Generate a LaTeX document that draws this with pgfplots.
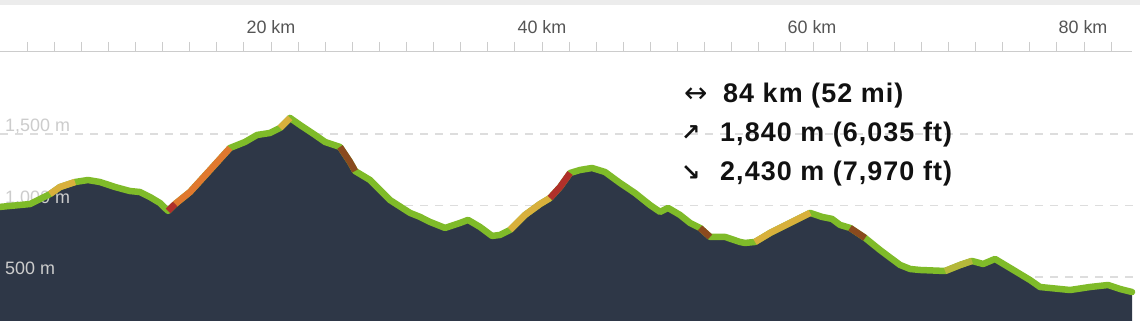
\documentclass[border=0pt]{standalone}
\usepackage{fontspec}
\setmainfont{Liberation Sans}
\newfontfamily\arrowfont{DejaVu Sans}
\newfontfamily\statfont[LetterSpace=4]{Liberation Sans}
\usepackage{pgfplots}
\usepackage{pgfplotstable}
\pgfplotsset{compat=1.18}

\definecolor{fillc}{HTML}{2E3747}
\definecolor{linegreen}{HTML}{7FBB29}
\definecolor{segyellow}{HTML}{D8B03C}
\definecolor{segorange}{HTML}{E0782E}
\definecolor{segred}{HTML}{B0302A}
\definecolor{segbrown}{HTML}{8A4A1E}
\definecolor{segolive}{HTML}{B5B83A}
\definecolor{rulergray}{HTML}{CCCCCC}
\definecolor{gridgray}{HTML}{DDDDDD}
\definecolor{ylabgray}{HTML}{CCCCCC}
\definecolor{kmgray}{HTML}{555555}
\definecolor{topgray}{HTML}{ECECEC}
\definecolor{stattext}{HTML}{111111}

\pgfplotstableread{
km m
0 990
2.21 1010
3.69 1080
4.43 1129
5.54 1164
6.49 1178
7.38 1164
8.49 1129
9.59 1101
10.33 1094
11.07 1059
11.81 1017
12.40 962
12.92 1010
14.02 1094
15.50 1248
16.97 1402
18.08 1444
18.97 1493
19.93 1507
20.66 1542
21.40 1612
22.14 1563
23.25 1493
23.99 1444
25.09 1409
25.83 1304
26.20 1241
27.31 1178
28.78 1038
30.26 948
31.00 920
31.73 885
32.84 843
33.95 878
34.54 899
35.42 850
36.31 787
36.90 794
37.64 829
38.75 934
39.85 1010
40.59 1052
41.33 1129
42.07 1227
42.80 1248
43.69 1262
44.65 1234
45.76 1157
46.86 1087
47.97 1003
48.71 955
49.30 983
50.18 934
50.92 878
51.66 843
52.40 780
53.51 780
54.61 745
54.98 738
55.72 745
56.83 808
58.30 878
59.78 948
60.66 920
61.40 906
61.99 864
62.73 843
63.84 773
64.94 689
66.42 584
67.16 556
67.90 549
69.74 542
70.85 584
71.73 612
72.55 591
73.43 626
74.54 563
76.01 479
76.75 430
78.97 409
80.44 430
81.77 444
82.66 416
83.54 395
}\profile

\pgfplotstableread{
km m
3.69 1080
4.43 1129
5.54 1164
}\segA
\pgfplotstableread{
km m
12.92 1010
14.02 1094
15.50 1248
16.97 1402
}\segB
\pgfplotstableread{
km m
12.40 962
12.92 1010
}\segBr
\pgfplotstableread{
km m
20.66 1542
21.40 1612
}\segC
\pgfplotstableread{
km m
25.09 1409
25.83 1304
26.20 1241
}\segD
\pgfplotstableread{
km m
37.64 829
38.75 934
39.85 1010
40.59 1052
}\segE
\pgfplotstableread{
km m
40.59 1052
41.33 1129
42.07 1227
}\segEr
\pgfplotstableread{
km m
51.66 843
52.40 780
}\segF
\pgfplotstableread{
km m
55.72 745
56.83 808
58.30 878
59.78 948
}\segG
\pgfplotstableread{
km m
62.73 843
63.84 773
}\segH
\pgfplotstableread{
km m
69.74 542
70.85 584
71.73 612
}\segI

\begin{document}
\begin{tikzpicture}
\path[use as bounding box] (0,0) rectangle (1140bp,321bp);
\fill[white] (0,0) rectangle (1140bp,321bp);
\fill[topgray] (0,316bp) rectangle (1140bp,321bp);
\begin{axis}[
  at={(0,0)}, anchor=south west,
  width=1140bp, height=269bp, scale only axis,
  xmin=0, xmax=84.13, ymin=192.3, ymax=2073,
  axis line style={draw=none},
  xtick={2,4,...,82}, xticklabels={}, xtick pos=upper,
  tick align=outside, major tick length=10bp,
  xtick style={draw=rulergray, line width=1bp},
  ytick={500,1000,1500}, yticklabels={}, ytick style={draw=none},
  ymajorgrids,
  grid style={gridgray, line width=1.2bp, dash pattern=on 8bp off 7bp},
  every axis plot/.append style={line join=round},
]
\addplot[fill=fillc, draw=none] table {\profile} \closedcycle;
\node[anchor=base west, text=ylabgray, font=\fontsize{18}{20}\selectfont, inner sep=0pt, yshift=2bp] at (axis cs:0.37,1500) {1,500 m};
\node[anchor=base west, text=ylabgray, font=\fontsize{18}{20}\selectfont, inner sep=0pt, yshift=2bp] at (axis cs:0.37,1000) {1,000 m};
\node[anchor=base west, text=ylabgray, font=\fontsize{18}{20}\selectfont, inner sep=0pt, yshift=2bp] at (axis cs:0.37,500) {500 m};
\addplot[linegreen, line width=6.5bp, line cap=round] table {\profile};
\addplot[segyellow, line width=6.5bp] table {\segA};
\addplot[segorange, line width=6.5bp] table {\segB};
\addplot[segred, line width=6.5bp] table {\segBr};
\addplot[segyellow, line width=6.5bp] table {\segC};
\addplot[segbrown, line width=6.5bp] table {\segD};
\addplot[segyellow, line width=6.5bp] table {\segE};
\addplot[segred, line width=6.5bp] table {\segEr};
\addplot[segbrown, line width=6.5bp] table {\segF};
\addplot[segyellow, line width=6.5bp] table {\segG};
\addplot[segbrown, line width=6.5bp] table {\segH};
\addplot[segolive, line width=6.5bp] table {\segI};
\end{axis}
\draw[rulergray, line width=1bp] (0,269bp) -- (1132bp,269bp);
\foreach \k/\xx in {20/271,40/542,60/812,80/1083}{
  \node[anchor=base, text=kmgray, font=\fontsize{18}{20}\selectfont, inner sep=0pt] at (\xx bp,287.5bp) {\k\ km};
}
\node[anchor=base west, text=stattext, font=\arrowfont\fontsize{28}{28}\selectfont, inner sep=0pt] at (684bp,218bp) {↔};
\node[anchor=base west, text=stattext, font=\statfont\bfseries\fontsize{27}{27}\selectfont, inner sep=0pt] at (723bp,218bp) {84 km (52 mi)};
\node[anchor=base west, text=stattext, font=\arrowfont\bfseries\fontsize{23}{23}\selectfont, inner sep=0pt] at (681bp,180bp) {↗};
\node[anchor=base west, text=stattext, font=\statfont\bfseries\fontsize{27}{27}\selectfont, inner sep=0pt] at (720bp,179bp) {1,840 m (6,035 ft)};
\node[anchor=base west, text=stattext, font=\arrowfont\bfseries\fontsize{23}{23}\selectfont, inner sep=0pt] at (681bp,140bp) {↘};
\node[anchor=base west, text=stattext, font=\statfont\bfseries\fontsize{27}{27}\selectfont, inner sep=0pt] at (720bp,140bp) {2,430 m (7,970 ft)};
\end{tikzpicture}
\end{document}
